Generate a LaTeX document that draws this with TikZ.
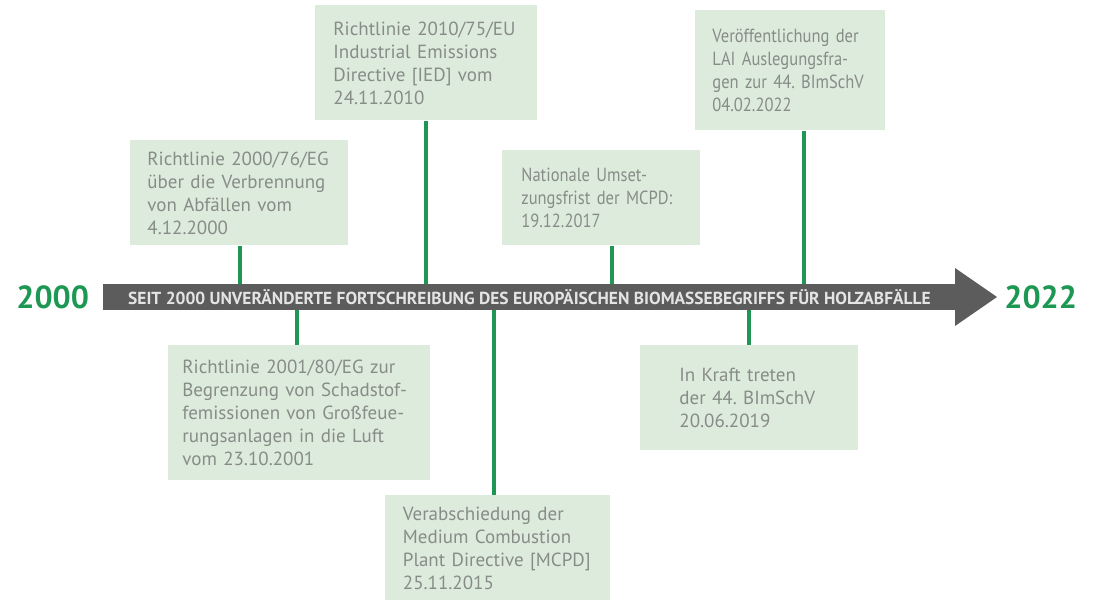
\documentclass[tikz,border=0pt]{standalone}
\usepackage{fontspec}
\setmainfont{PT Sans}
\newfontfamily\narrowfont[FakeStretch=0.87]{PT Sans}
\usetikzlibrary{positioning}
\definecolor{boxfill}{RGB}{221,235,220}
\definecolor{textgray}{RGB}{135,140,135}
\definecolor{stemgreen}{RGB}{32,150,84}
\definecolor{yeargreen}{RGB}{28,152,82}
\definecolor{bargray}{RGB}{92,92,92}
\definecolor{bartext}{RGB}{228,228,228}
\newcommand{\jline}[1]{\makebox[\hsize][s]{#1}}
\frenchspacing
\hyphenpenalty=10000
\exhyphenpenalty=10000

\begin{document}
\begin{tikzpicture}[
  x=0.5pt, y=-0.5pt,
  box/.style={fill=boxfill, anchor=north west, inner sep=0pt, align=left,
    text=textgray, font=\fontsize{9.5}{11.5}\selectfont},
  stem/.style={draw=stemgreen, line width=2pt},
  year/.style={anchor=west, inner sep=0pt, text=yeargreen,
    font=\fontsize{16}{16}\selectfont\bfseries}
]
\useasboundingbox (0,0) rectangle (1097,603);

% --- timeline bar and arrow head
\node[fill=bargray, anchor=west, inner sep=0pt, minimum width=426pt,
      minimum height=13pt, text=bartext, font=\fontsize{8.7}{9}\selectfont\bfseries]
      (bar) at (103,297) {SEIT 2000 UNVERÄNDERTE FORTSCHREIBUNG DES EUROPÄISCHEN BIOMASSEBEGRIFFS FÜR HOLZABFÄLLE};
\fill[bargray] (955,268) -- (997,297) -- (955,326) -- cycle;

\node[year] (y2000) at (16,297) {2000};
\node[year] (y2022) at (1004,297) {2022};

% --- boxes above the bar
\node[box, minimum width=109pt, minimum height=52.5pt, text width=92pt]
  (ewg) at (130,140) {Richtlinie 2000/76/EG\\über die Verbrennung\\\jline{von Abfällen vom}\\4.12.2000};
\node[box, minimum width=111pt, minimum height=57.5pt, text width=93pt]
  (ied) at (315,5) {Richtlinie 2010/75/EU\\Industrial Emissions\\Directive [IED] vom\\24.11.2010};
\node[box, minimum width=99pt, minimum height=47.5pt, text width=80pt,
      font=\fontsize{9.5}{11.5}\narrowfont]
  (frist) at (502,150) {Nationale Umset-\\zungsfrist der MCPD:\\19.12.2017};
\node[box, minimum width=95pt, minimum height=60pt, text width=78pt,
      font=\fontsize{9.5}{11.5}\narrowfont]
  (lai) at (695,10) {Veröffentlichung der\\LAI Auslegungsfra-\\gen zur 44. BImSchV\\04.02.2022};

% --- boxes below the bar
\node[box, minimum width=131pt, minimum height=67.5pt, text width=117pt]
  (gfa) at (168,345) {Richtlinie 2001/80/EG zur\\Begrenzung von Schadstof-\\femissionen von Großfeue-\\\jline{rungsanlagen in die Luft}\\vom 23.10.2001};
\node[box, minimum width=112.5pt, minimum height=52.5pt, text width=95pt]
  (mcpd) at (385,495) {Verabschiedung der\\Medium Combustion\\Plant Directive [MCPD]\\25.11.2015};
\node[box, minimum width=109pt, minimum height=52.5pt, text width=70pt]
  (kraft) at (640,345) {\jline{In Kraft treten}\\der 44. BImSchV\\20.06.2019};

% --- stems to the bar
\coordinate (dEwg)   at (240,0 |- bar.north);
\coordinate (dIed)   at (426,0 |- bar.north);
\coordinate (dFrist) at (612,0 |- bar.north);
\coordinate (dLai)   at (804,0 |- bar.north);
\coordinate (dGfa)   at (297,0 |- bar.south);
\coordinate (dMcpd)  at (494,0 |- bar.south);
\coordinate (dKraft) at (749,0 |- bar.south);

\draw[stem] (dEwg) -- (dEwg |- ewg.south);
\draw[stem] (dIed) -- (dIed |- ied.south);
\draw[stem] (dFrist) -- (dFrist |- frist.south);
\draw[stem] (dLai) -- (dLai |- lai.south);
\draw[stem] (dGfa) -- (dGfa |- gfa.north);
\draw[stem] (dMcpd) -- (dMcpd |- mcpd.north);
\draw[stem] (dKraft) -- (dKraft |- kraft.north);

\end{tikzpicture}
\end{document}
